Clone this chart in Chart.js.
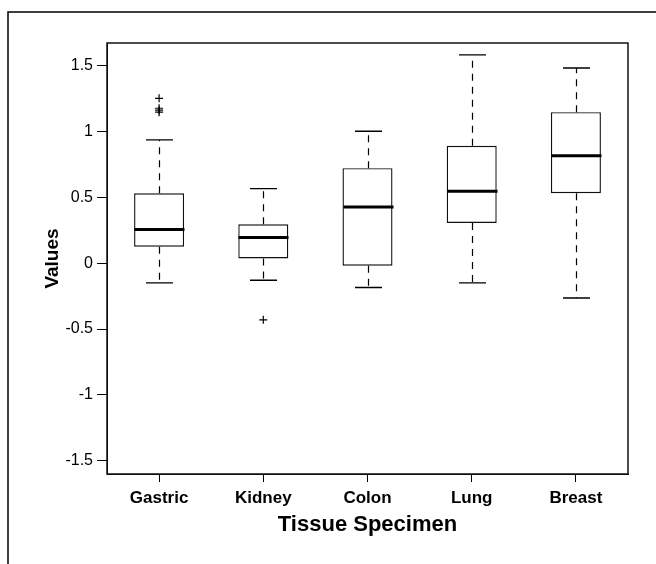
<!DOCTYPE html>
<html><head><meta charset="utf-8">
<script src="https://cdn.jsdelivr.net/npm/chart.js@4"></script>
<style>html,body{margin:0;padding:0;background:#fff}</style>
</head><body>
<canvas id="c" width="656" height="564"></canvas>
<script>
const categories = ['Gastric', 'Kidney', 'Colon', 'Lung', 'Breast'];
const whiskerLow  = [-0.15, -0.13, -0.185, -0.15, -0.265];
const q1          = [0.125, 0.035, -0.02, 0.305, 0.53];
const median      = [0.255, 0.195, 0.425, 0.545, 0.815];
const q3          = [0.53, 0.295, 0.72, 0.89, 1.145];
const whiskerHigh = [0.935, 0.565, 1.0, 1.58, 1.48];
const outliers    = [[1.25, 1.175, 1.16, 1.145], [-0.43], [], [], []];
const yTicks      = [-1.5, -1, -0.5, 0, 0.5, 1, 1.5];

const FONT = '"Liberation Sans", Arial, Helvetica, sans-serif';
Chart.defaults.color = '#000';
Chart.defaults.font.family = FONT;

const outlierPoints = [];
outliers.forEach((arr, i) => arr.forEach(v => outlierPoints.push({x: categories[i], y: v})));

const boxPlugin = {
  id: 'boxExtras',
  afterDatasetsDraw(chart) {
    const ctx = chart.ctx;
    const xs = chart.scales.x, ys = chart.scales.y;
    const meta = chart.getDatasetMeta(0);
    ctx.save();
    categories.forEach((c, i) => {
      const cx = Math.round(xs.getPixelForValue(i)) + 0.5;
      const bw = meta.data[i].width;
      const capW = bw * 0.54;
      const yLo = ys.getPixelForValue(whiskerLow[i]);
      const yQ1 = ys.getPixelForValue(q1[i]);
      const yQ3 = ys.getPixelForValue(q3[i]);
      const yHi = ys.getPixelForValue(whiskerHigh[i]);
      const yMed = ys.getPixelForValue(median[i]);
      // dashed whiskers
      ctx.strokeStyle = '#000';
      ctx.lineWidth = 1.2;
      ctx.setLineDash([7, 6]);
      ctx.beginPath();
      ctx.moveTo(cx, yQ3); ctx.lineTo(cx, yHi);
      ctx.moveTo(cx, yQ1); ctx.lineTo(cx, yLo);
      ctx.stroke();
      ctx.setLineDash([]);
      // caps
      ctx.lineWidth = 1.4;
      ctx.beginPath();
      ctx.moveTo(cx - capW / 2, yHi); ctx.lineTo(cx + capW / 2, yHi);
      ctx.moveTo(cx - capW / 2, yLo); ctx.lineTo(cx + capW / 2, yLo);
      ctx.stroke();
      // median
      ctx.lineWidth = 3;
      ctx.beginPath();
      ctx.moveTo(cx - bw / 2, yMed); ctx.lineTo(cx + bw / 2, yMed);
      ctx.stroke();
    });
    ctx.restore();
  },
  afterDraw(chart) {
    const ctx = chart.ctx;
    const a = chart.chartArea;
    ctx.save();
    ctx.strokeStyle = '#111';
    ctx.lineWidth = 1.5;
    ctx.strokeRect(a.left, a.top, a.right - a.left, a.bottom - a.top);
    // outer figure frame
    ctx.strokeStyle = '#000';
    ctx.lineWidth = 1.5;
    ctx.strokeRect(8, 12, 700, 700);
    ctx.restore();
  }
};

new Chart(document.getElementById('c'), {
  type: 'bar',
  data: {
    labels: categories,
    datasets: [
      {
        type: 'bar',
        data: categories.map((c, i) => [q1[i], q3[i]]),
        backgroundColor: '#fff',
        borderColor: '#111',
        borderWidth: 1.4,
        borderSkipped: false,
        barPercentage: 0.48,
        categoryPercentage: 1.0
      },
      {
        type: 'line',
        data: outlierPoints,
        showLine: false,
        pointStyle: 'cross',
        pointRadius: 4,
        pointBorderWidth: 1.2,
        pointBorderColor: '#000',
        pointBackgroundColor: '#000'
      }
    ]
  },
  options: {
    responsive: false,
    devicePixelRatio: 1,
    animation: false,
    layout: { padding: { top: 43, right: 28, left: 0, bottom: 0 } },
    plugins: { legend: { display: false }, tooltip: { enabled: false } },
    scales: {
      x: {
        type: 'category',
        offset: true,
        afterFit(s) { s.height = 90; },
        grid: { drawOnChartArea: false, offset: false, tickLength: 8, color: '#000', lineWidth: 1 },
        border: { display: true, color: '#000' },
        ticks: { font: { size: 17, weight: 'bold', family: FONT }, padding: 6, color: '#000' },
        title: { display: true, text: 'Tissue Specimen', font: { size: 22, weight: 'bold', family: FONT }, padding: { bottom: 26 }, color: '#000' }
      },
      y: {
        min: -1.6,
        max: 1.67,
        afterFit(s) { s.width = 107; },
        afterBuildTicks(s) { s.ticks = yTicks.map(v => ({ value: v })); },
        grid: { drawOnChartArea: false, tickLength: 10, color: '#000', lineWidth: 1 },
        border: { display: true, color: '#000' },
        ticks: { font: { size: 16, family: FONT }, padding: 4, color: '#000', callback: v => String(v) },
        title: { display: true, text: 'Values', font: { size: 19, weight: 'bold', family: FONT }, padding: { top: 41 }, color: '#000' }
      }
    }
  },
  plugins: [boxPlugin]
});
</script>
</body></html>
